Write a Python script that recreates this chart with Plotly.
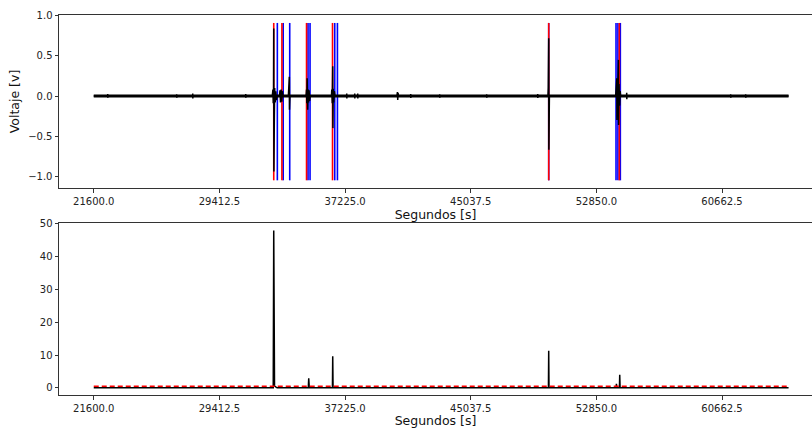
import plotly.graph_objects as go

# ---------------- data ----------------
t_start = 21600
t_end = 64800

# top: voltage signal samples (time [s], value [v])
sig_t = [21600,
         22460, 22470, 22475, 22485,
         26750, 26760, 26765, 26775,
         27745, 27755, 27760, 27770,
         31040, 31050, 31055, 31065,
         32700, 32740, 32760, 32780, 32791, 32800, 32815, 32830, 32850, 32880, 32920, 32960, 33000,
         33150, 33180, 33210, 33250, 33290, 33330, 33360,
         33700, 33760, 33770, 33800,
         34800, 34830, 34850, 34870, 34900, 34930, 34960, 34990, 35020, 35060,
         36380, 36400, 36430, 36459, 36470, 36490, 36520, 36560, 36600,
         37320, 37330, 37335, 37345,
         37816, 37826, 37831, 37841,
         38003, 38013, 38018, 38028,
         40450, 40480, 40500, 40520, 40550,
         41298, 41308, 41313, 41323,
         43101, 43111, 43116, 43126,
         46023, 46033, 46038, 46048,
         49194, 49204, 49209, 49219,
         49840, 49860, 49887, 49895, 49910, 49930,
         54050, 54080, 54120, 54130, 54160, 54190, 54220, 54230, 54260, 54300, 54330, 54360,
         54727, 54737, 54742, 54752,
         61194, 61204, 61209, 61219,
         62126, 62136, 62141, 62151,
         64800]
sig_v = [0.0,
         0.0, 0.025, -0.02, 0.0,
         0.0, 0.02, -0.02, 0.0,
         0.0, 0.03, -0.03, 0.0,
         0.0, 0.025, -0.02, 0.0,
         0.0, 0.08, -0.09, 0.1, 0.84, -0.94, 0.3, -0.25, 0.1, -0.08, 0.06, -0.05, 0.0,
         0.0, 0.07, -0.08, 0.08, -0.07, 0.06, 0.0,
         0.0, 0.24, -0.17, 0.0,
         0.0, 0.08, -0.09, 0.22, -0.17, 0.08, -0.08, 0.07, -0.06, 0.0,
         0.0, 0.08, -0.09, 0.37, -0.40, 0.09, -0.08, 0.06, 0.0,
         0.0, 0.03, -0.03, 0.0,
         0.0, 0.03, -0.03, 0.0,
         0.0, 0.03, -0.03, 0.0,
         0.0, 0.05, -0.05, 0.04, 0.0,
         0.0, 0.025, -0.025, 0.0,
         0.0, 0.02, -0.02, 0.0,
         0.0, 0.02, -0.02, 0.0,
         0.0, 0.025, -0.025, 0.0,
         0.0, 0.1, 0.72, -0.67, 0.08, 0.0,
         0.0, 0.1, 0.22, -0.30, 0.12, -0.1, 0.45, -0.36, 0.15, -0.12, 0.06, 0.0,
         0.0, 0.04, -0.04, 0.0,
         0.0, 0.02, -0.02, 0.0,
         0.0, 0.02, -0.02, 0.0,
         0.0]

# event markers (vertical lines)
red_events = [32791, 33300, 34830, 36446, 49887, 54277]
blue_events = [33015, 33381, 33785, 34923, 35048, 36583, 36751, 49887, 54072, 54190, 54340]
vline_lo = -1.05
vline_hi = 0.91

# bottom: energy samples
en_t = [21600, 32760, 32791, 32800, 32810, 32820, 32840, 33000, 33740, 33767, 33800,
        34940, 34967, 35000, 36440, 36459, 36480, 36630, 36645, 36670,
        49870, 49887, 49905, 54080, 54097, 54120, 54285, 54303, 54325, 64800]
en_v = [0.0, 0.0, 48.0, 39.0, 31.0, 7.0, 0.5, 0.0, 0.0, 0.5, 0.0,
        0.0, 2.9, 0.0, 0.0, 9.6, 0.0, 0.0, 0.5, 0.0,
        0.0, 11.3, 0.0, 0.0, 1.2, 0.0, 0.0, 4.0, 0.0, 0.0]
threshold = 0.45

xtick_vals = [21600.0, 29412.5, 37225.0, 45037.5, 52850.0, 60662.5]
xtick_text = ["21600.0", "29412.5", "37225.0", "45037.5", "52850.0", "60662.5"]
ytop_vals = [-1.0, -0.5, 0.0, 0.5, 1.0]
ytop_text = ["\u22121.0", "\u22120.5", "0.0", "0.5", "1.0"]
ybot_vals = [0, 10, 20, 30, 40, 50]

# ---------------- figure ----------------
def vline_xy(times, lo, hi):
    xs, ys = [], []
    for t in times:
        xs += [t, t, None]
        ys += [lo, hi, None]
    return xs, ys

fig = go.Figure()

rx, ry = vline_xy(red_events, vline_lo, vline_hi)
bx, by = vline_xy(blue_events, vline_lo, vline_hi)
fig.add_trace(go.Scatter(x=bx, y=by, mode="lines", line=dict(color="#0000ff", width=1.6),
                         xaxis="x", yaxis="y", hoverinfo="skip"))
fig.add_trace(go.Scatter(x=rx, y=ry, mode="lines", line=dict(color="#ff0000", width=1.6),
                         xaxis="x", yaxis="y", hoverinfo="skip"))
fig.add_trace(go.Scatter(x=[t_start, t_end], y=[0, 0], mode="lines",
                         line=dict(color="black", width=3), xaxis="x", yaxis="y"))
fig.add_trace(go.Scatter(x=sig_t, y=sig_v, mode="lines",
                         line=dict(color="black", width=1.5), xaxis="x", yaxis="y"))

fig.add_trace(go.Scatter(x=en_t, y=en_v, mode="lines",
                         line=dict(color="black", width=1.5), xaxis="x2", yaxis="y2"))
fig.add_trace(go.Scatter(x=[t_start, t_end], y=[threshold, threshold], mode="lines",
                         line=dict(color="#ff0000", width=1.5, dash="5px,3px"),
                         xaxis="x2", yaxis="y2"))

axis_col = "#333333"
tickfont = dict(family="DejaVu Sans", size=10, color="#222222")
titlefont = dict(family="DejaVu Sans", size=12.5, color="#111111")
xr = [19440, 66257]

common_x = dict(range=xr, tickmode="array", tickvals=xtick_vals, ticktext=xtick_text,
                ticks="outside", ticklen=3.5, tickwidth=1, tickcolor=axis_col,
                showline=True, linecolor=axis_col, linewidth=1, mirror=True,
                showgrid=False, zeroline=False, tickfont=tickfont, automargin=False)
common_y = dict(ticks="outside", ticklen=3.5, tickwidth=1, tickcolor=axis_col,
                showline=True, linecolor=axis_col, linewidth=1, mirror=False,
                showgrid=False, zeroline=False, tickfont=tickfont, automargin=False,
                tickmode="array")

fig.update_layout(
    width=812, height=428,
    margin=dict(l=59, r=0, t=15, b=33),
    paper_bgcolor="white", plot_bgcolor="white",
    showlegend=False,
    font=dict(family="DejaVu Sans"),
    xaxis=dict(**common_x, anchor="y",
               title=dict(text="Segundos [s]", font=titlefont, standoff=2)),
    yaxis=dict(**common_y, domain=[0.5447, 1.0], range=[-1.146, 1.009], anchor="x",
               tickvals=ytop_vals, ticktext=ytop_text,
               title=dict(text="Voltaje [v]", font=titlefont, standoff=5)),
    xaxis2=dict(**common_x, anchor="y2",
                title=dict(text="Segundos [s]", font=titlefont, standoff=2)),
    yaxis2=dict(**common_y, domain=[0.0, 0.4526], range=[-2.2, 50.3], anchor="x2",
                tickvals=ybot_vals, ticktext=[str(v) for v in ybot_vals]),
)

fig.write_html("out.html")
